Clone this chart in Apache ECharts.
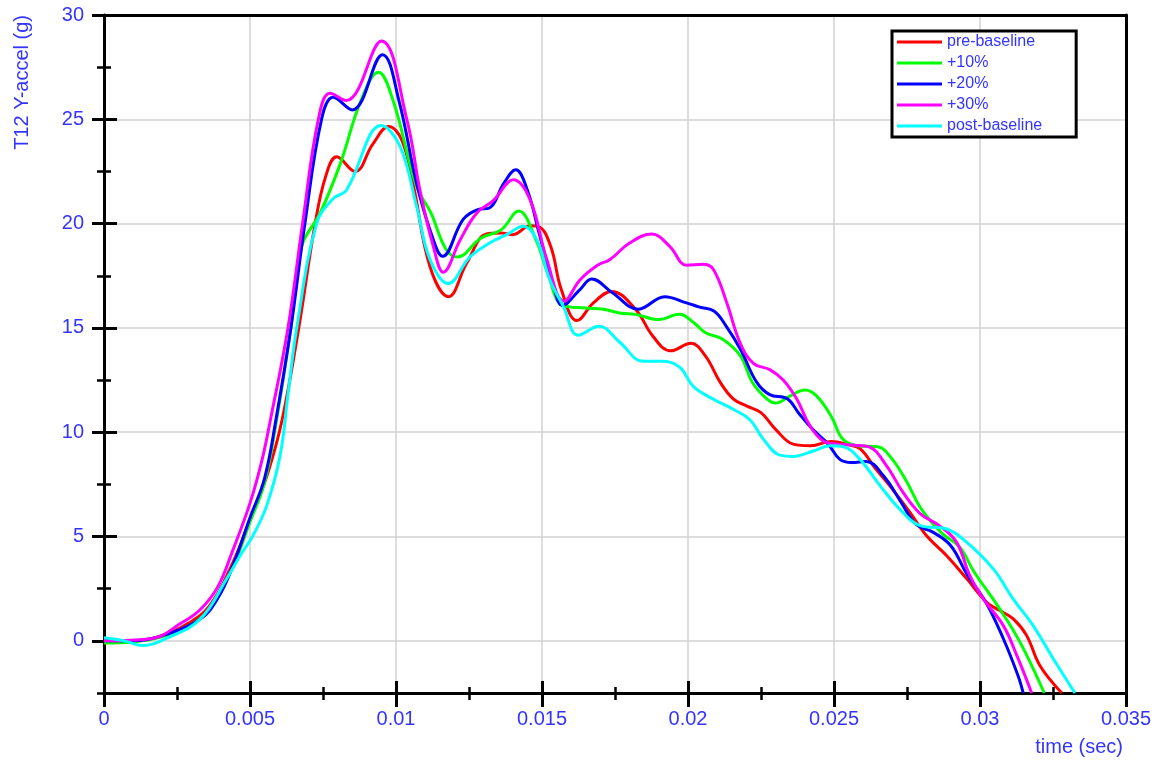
<!DOCTYPE html>
<html>
<head>
<meta charset="utf-8">
<title>T12 Y-accel</title>
<script src="https://cdn.jsdelivr.net/npm/echarts@6/dist/echarts.min.js"></script>
<style>
  html, body { margin: 0; padding: 0; background: #ffffff; }
  #chart { width: 1157px; height: 761px; }
</style>
</head>
<body>
<div id="chart"></div>
<script>
// T12 Y-axis acceleration (g) versus time (sec), one trace per condition.
const seriesNames = ['pre-baseline', '+10%', '+20%', '+30%', 'post-baseline'];
const seriesColors = ['#ff0000', '#00ff00', '#0000ff', '#ff00ff', '#00ffff'];

// [time (sec), accel (g)]
const preBaseline = [
  [0, 0.0], [0.001, 0.0], [0.002, 0.25], [0.0029, 0.85], [0.0036, 1.65], [0.0043, 3.4],
  [0.005, 5.8], [0.0056, 8.0], [0.0061, 10.6], [0.00667, 15.0], [0.00723, 20.0],
  [0.0076, 22.3], [0.00797, 23.2], [0.0086, 22.5], [0.0092, 23.8], [0.00975, 24.65],
  [0.0102, 24.0], [0.0106, 21.8], [0.01116, 17.96], [0.0118, 16.5], [0.01242, 18.1],
  [0.0131, 19.5], [0.0136, 19.55], [0.014, 19.47], [0.0146, 19.9], [0.0149, 19.85],
  [0.0153, 18.9], [0.01567, 16.8], [0.0162, 15.35], [0.01676, 16.2], [0.01738, 16.75],
  [0.0182, 15.9], [0.0188, 14.6], [0.0194, 13.9], [0.0201, 14.26], [0.0206, 13.65],
  [0.0211, 12.4], [0.02155, 11.6], [0.022, 11.26], [0.0225, 10.94], [0.023, 10.14],
  [0.0236, 9.43], [0.0242, 9.35], [0.0249, 9.55], [0.0255, 9.4], [0.0259, 9.2],
  [0.0264, 8.3], [0.027, 7.27], [0.0276, 6.16], [0.02817, 5.04], [0.02886, 4.08],
  [0.02955, 2.97], [0.03023, 1.85], [0.03068, 1.45], [0.03114, 1.05], [0.0316, 0.25],
  [0.03205, -1.18], [0.0328, -2.5]
];
const plus10 = [
  [0, -0.1], [0.001, -0.05], [0.002, 0.2], [0.003, 0.8], [0.0037, 1.65], [0.0044, 3.5],
  [0.005, 5.7], [0.0055, 7.6], [0.0059, 10.5], [0.0064, 15.0], [0.00677, 18.9],
  [0.0074, 20.5], [0.0081, 22.9], [0.0088, 25.9], [0.0094, 27.25], [0.0099, 25.9],
  [0.0107, 21.8], [0.0112, 20.5], [0.0117, 18.8], [0.0121, 18.4], [0.0129, 19.3],
  [0.0136, 19.7], [0.0142, 20.6], [0.0148, 19.2], [0.0152, 17.6], [0.0157, 16.1],
  [0.0165, 15.95], [0.0171, 15.9], [0.0177, 15.7], [0.0182, 15.65], [0.019, 15.4],
  [0.0197, 15.65], [0.0202, 15.25], [0.0206, 14.77], [0.0212, 14.45], [0.0218, 13.65],
  [0.0222, 12.4], [0.0227, 11.6], [0.023, 11.4], [0.0235, 11.74], [0.024, 12.02],
  [0.0244, 11.74], [0.0249, 10.78], [0.0253, 9.67], [0.0258, 9.35], [0.0265, 9.3],
  [0.027, 8.7], [0.0275, 7.6], [0.028, 6.3], [0.0287, 5.15], [0.0293, 4.5],
  [0.0298, 3.3], [0.0306, 1.69], [0.03137, -0.06], [0.0322, -2.5]
];
const plus20 = [
  [0, 0.0], [0.001, 0.0], [0.002, 0.25], [0.0033, 1.05], [0.0039, 2.05], [0.0044, 3.55],
  [0.005, 5.9], [0.0055, 7.8], [0.0059, 10.7], [0.0064, 15.0], [0.00688, 20.0],
  [0.00745, 25.0], [0.00785, 26.06], [0.0085, 25.45], [0.00954, 28.1], [0.0101, 25.9],
  [0.0107, 21.95], [0.0112, 19.55], [0.0116, 18.43], [0.0123, 20.2], [0.0128, 20.67],
  [0.0132, 20.75], [0.0137, 21.95], [0.0141, 22.58], [0.0145, 21.6], [0.0149, 19.55],
  [0.0154, 17.0], [0.0157, 16.08], [0.0163, 16.84], [0.0167, 17.35], [0.0174, 16.7],
  [0.0183, 15.9], [0.0192, 16.5], [0.01995, 16.2], [0.0204, 16.0], [0.0209, 15.8],
  [0.0213, 15.1], [0.0218, 13.97], [0.02235, 12.4], [0.0228, 11.8], [0.0234, 11.6],
  [0.0238, 10.9], [0.0243, 10.1], [0.0248, 9.43], [0.0252, 8.7], [0.0256, 8.55],
  [0.0261, 8.6], [0.0267, 7.9], [0.0273, 6.64], [0.0278, 5.6], [0.0284, 5.2],
  [0.029, 4.56], [0.02955, 3.2], [0.0302, 1.85], [0.0308, 0.1], [0.0313, -1.66],
  [0.03148, -2.5]
];
const plus30 = [
  [0, 0.0], [0.0016, 0.1], [0.0027, 0.9], [0.0033, 1.5], [0.0039, 2.6], [0.0044, 4.3],
  [0.005, 6.6], [0.0054, 8.6], [0.0057, 10.6], [0.0063, 15.0], [0.0068, 20.0],
  [0.00734, 25.0], [0.00774, 26.25], [0.0083, 25.9], [0.0095, 28.75], [0.01037, 25.0],
  [0.01082, 21.6], [0.01128, 18.9], [0.01162, 17.67], [0.0122, 19.23], [0.01276, 20.5],
  [0.01333, 21.1], [0.01402, 22.1], [0.01459, 21.15], [0.01516, 18.3], [0.01576, 16.28],
  [0.0163, 17.3], [0.0169, 18.0], [0.01733, 18.28], [0.01801, 19.08], [0.01876, 19.5],
  [0.01938, 18.9], [0.01995, 18.0], [0.02052, 18.05], [0.02087, 17.8], [0.02133, 16.2],
  [0.02178, 14.3], [0.02224, 13.3], [0.0228, 13.0], [0.02326, 12.5], [0.02372, 11.6],
  [0.02418, 10.3], [0.02463, 9.58], [0.0251, 9.43], [0.0257, 9.38], [0.0262, 9.3],
  [0.0268, 8.39], [0.02737, 7.1], [0.02795, 6.1], [0.02863, 5.5], [0.0292, 4.72],
  [0.02966, 3.1], [0.03012, 2.0], [0.0308, 0.73], [0.03126, -0.7], [0.03177, -2.5]
];
const postBaseline = [
  [0, 0.15], [0.0007, 0.0], [0.0013, -0.22], [0.0021, 0.1], [0.0033, 1.05], [0.0042, 2.97],
  [0.00466, 4.08], [0.0051, 5.04], [0.00557, 6.47], [0.00603, 8.87], [0.0063, 11.8],
  [0.0066, 15.0], [0.00728, 20.0], [0.00785, 21.2], [0.0083, 21.6], [0.0095, 24.7],
  [0.01014, 23.7], [0.01071, 20.8], [0.01116, 18.3], [0.01179, 17.13], [0.01253, 18.4],
  [0.01322, 19.08], [0.01379, 19.47], [0.01436, 19.87], [0.01482, 19.23], [0.01527, 17.3],
  [0.01573, 16.04], [0.01624, 14.65], [0.01695, 15.08], [0.01767, 14.3], [0.01847, 13.4],
  [0.01915, 13.4], [0.01973, 13.1], [0.02018, 12.2], [0.02087, 11.58], [0.02155, 11.1],
  [0.02212, 10.6], [0.02258, 9.67], [0.02315, 8.9], [0.02361, 8.84], [0.02429, 9.1],
  [0.02486, 9.35], [0.02532, 9.3], [0.02589, 8.7], [0.02658, 7.43], [0.02726, 6.3],
  [0.02795, 5.52], [0.02886, 5.36], [0.02955, 4.72], [0.03046, 3.44], [0.03114, 2.0],
  [0.03182, 0.73], [0.03251, -0.86], [0.03325, -2.5]
];
const seriesData = [preBaseline, plus10, plus20, plus30, postBaseline];

// axis ranges and tick positions
const xMin = 0, xMax = 0.035, xStep = 0.005;
const xMinorTicks = [0.0025, 0.0075, 0.0125, 0.0175, 0.0225, 0.0275, 0.0325];
const yMin = -2.5, yMax = 30;
const yMajorTicks = [0, 5, 10, 15, 20, 25, 30];
const yMinorTicks = [-2.5, 2.5, 7.5, 12.5, 17.5, 22.5, 27.5];

const textBlue = '#3434ff';
const fontFamily = '"Liberation Sans", Arial, sans-serif';
const axisFontSize = 20;

const chart = echarts.init(document.getElementById('chart'), null, { renderer: 'canvas' });

const hidden = { show: false };
// extra axes sharing the main scale, used only for tick marks and frame lines
function xOverlay(values, len, inside, width, position, showLine) {
  return {
    type: 'value', min: xMin, max: xMax, interval: xStep, position: position || 'bottom',
    axisLine: { show: !!showLine, onZero: false, lineStyle: { color: '#000', width: 3 } },
    axisLabel: hidden, splitLine: hidden,
    axisTick: values ? { show: true, inside: inside, length: len, customValues: values,
                         lineStyle: { color: '#000', width: width } } : hidden
  };
}
function yOverlay(values, len, inside, width, position, showLine) {
  return {
    type: 'value', min: yMin, max: yMax, position: position || 'left',
    axisLine: { show: !!showLine, onZero: false, lineStyle: { color: '#000', width: 3 } },
    axisLabel: hidden, splitLine: hidden,
    axisTick: values ? { show: true, inside: inside, length: len, customValues: values,
                         lineStyle: { color: '#000', width: width } } : hidden
  };
}
const xMajorTicks = [];
for (let v = xMin; v <= xMax + 1e-9; v += xStep) xMajorTicks.push(+v.toFixed(4));

const option = {
  backgroundColor: '#ffffff',
  animation: false,
  grid: {
    left: 104, right: 31, top: 15, bottom: 68,
    containLabel: false, outerBoundsMode: 'none'
  },
  legend: {
    orient: 'vertical',
    left: 892, top: 31,
    padding: [3, 34, 3, 5],
    itemGap: 5,
    itemWidth: 45, itemHeight: 3,
    icon: 'rect',
    borderColor: '#000', borderWidth: 3,
    backgroundColor: '#fff',
    textStyle: { color: textBlue, fontSize: 16, fontFamily: fontFamily },
    data: seriesNames
  },
  xAxis: [
    {
      type: 'value', min: xMin, max: xMax, interval: xStep, position: 'bottom',
      axisLine: { show: true, onZero: false, lineStyle: { color: '#000', width: 3 } },
      axisTick: { show: true, inside: false, length: 14, lineStyle: { color: '#000', width: 3 } },
      axisLabel: { color: textBlue, fontSize: axisFontSize, fontFamily: fontFamily, margin: 16,
                   formatter: v => String(+v.toFixed(4)) },
      splitLine: { show: true, lineStyle: { color: '#d2d2d2', width: 1.5 } }
    },
    xOverlay(xMajorTicks, 12, true, 3),
    xOverlay(xMinorTicks, 7, false, 2.5),
    xOverlay(xMinorTicks, 6, true, 2.5),
    xOverlay(null, 0, false, 0, 'top', true)
  ],
  yAxis: [
    {
      type: 'value', min: yMin, max: yMax, position: 'left',
      axisLine: { show: true, onZero: false, lineStyle: { color: '#000', width: 3 } },
      axisTick: { show: true, inside: false, length: 12, customValues: yMajorTicks,
                  lineStyle: { color: '#000', width: 3 } },
      axisLabel: { color: textBlue, fontSize: axisFontSize, fontFamily: fontFamily, margin: 20,
                   customValues: yMajorTicks },
      splitLine: { show: true, lineStyle: { color: '#d2d2d2', width: 1.5 } }
    },
    yOverlay(yMajorTicks, 13, true, 3),
    yOverlay(yMinorTicks, 7, false, 2.5),
    yOverlay(yMinorTicks.filter(v => v > yMin), 7, true, 2.5),
    yOverlay(null, 0, false, 0, 'right', true)
  ],
  graphic: [
    {
      type: 'text', x: 22, y: 15, rotation: Math.PI / 2,
      style: { text: 'T12 Y-accel (g)', fill: textBlue, font: axisFontSize + 'px ' + fontFamily,
               align: 'right', verticalAlign: 'middle' }
    },
    {
      type: 'text', x: 1123, y: 747,
      style: { text: 'time (sec)', fill: textBlue, font: axisFontSize + 'px ' + fontFamily,
               align: 'right', verticalAlign: 'middle' }
    }
  ],
  series: seriesNames.map((name, i) => ({
    name: name,
    type: 'line',
    data: seriesData[i],
    xAxisIndex: 0, yAxisIndex: 0,
    smooth: 0.4,
    symbol: 'none',
    clip: true,
    color: seriesColors[i],
    lineStyle: { color: seriesColors[i], width: 3 },
    z: 3 + i
  }))
};

chart.setOption(option);
</script>
</body>
</html>
